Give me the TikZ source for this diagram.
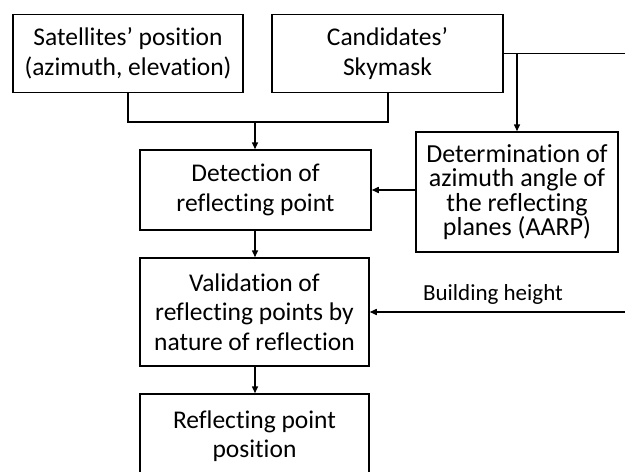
\documentclass[tikz,border=0pt]{standalone}
\usepackage{fontspec}
\setmainfont{Carlito}[Ligatures={NoCommon}]
\usetikzlibrary{arrows.meta}
\begin{document}
\begin{tikzpicture}[x=1pt,y=-1pt,
  box/.style={draw,line width=1.5pt,inner sep=0pt,align=center,font=\fontsize{25.5}{29.5}\selectfont},
  conn/.style={line width=1.5pt},
  arr/.style={conn,-{Triangle[length=7pt,width=6pt]}}]
\useasboundingbox (0,0) rectangle (625,472);
\begin{scope}
\clip (0,0) rectangle (625,472);
\node[box,minimum width=230pt,minimum height=78pt] (sat) at (128,53.5) {Satellites’ position\\(azimuth, elevation)};
\node[box,minimum width=231pt,minimum height=78pt] (cand) at (387.5,53.5) {Candidates’\\Skymask};
\node[box,minimum width=231pt,minimum height=80pt] (det) at (255.5,190) {Detection of\\reflecting point};
\node[box,minimum width=202pt,minimum height=120pt,font=\fontsize{26}{24.5}\selectfont] (aarp) at (517,192) {Determination of\\azimuth angle of\\the reflecting\\planes (AARP)};
\node[box,minimum width=229pt,minimum height=108pt] (val) at (254.5,312) {Validation of\\reflecting points by\\nature of reflection};
\node[draw,line width=1.5pt,minimum width=229pt,minimum height=90pt,inner sep=0pt] (posbox) at (254.5,439) {};
\node[align=center,font=\fontsize{25.5}{29.5}\selectfont] (pos) at (254.5,436) {Reflecting point\\position};
\node[font=\fontsize{23}{26}\selectfont] (bh) at (493,294) {Building height};
\coordinate (j1) at (128,122);
\coordinate (j2) at (388,122);
\coordinate (j3) at (255,122);
\coordinate (e1) at (625,0);
\coordinate (b1) at (cand.east -| aarp.north);
\coordinate (e2) at (625,312);
\draw[conn] (sat.south) -- (j1) -- (j2) -- (cand.south -| j2);
\draw[arr] (j3) -- (j3 |- det.north);
\draw[conn] (cand.east) -- (cand.east -| e1);
\draw[arr] (b1) -- (aarp.north);
\draw[arr] (aarp.west |- det.east) -- (det.east);
\draw[arr] (e2) -- (val.east |- e2);
\draw[arr] (val.south -| j3) -- (j3 |- posbox.north);
\draw[arr] (j3 |- det.south) -- (j3 |- val.north);
\end{scope}
\end{tikzpicture}
\end{document}
